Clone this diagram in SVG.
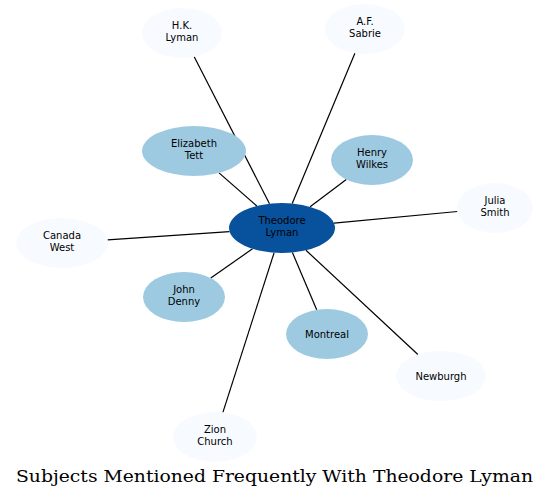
<svg xmlns="http://www.w3.org/2000/svg" width="549" height="498" viewBox="0 0 549 498">
<style>
.n text{font-family:"DejaVu Sans",sans-serif;font-size:10px;text-anchor:middle;fill:#000}
.l{fill:#f7fbff}
.m{fill:#9ecae1}
.d{fill:#08519c}
#edges line{stroke:#000;stroke-width:1.2}
.title{font-family:"DejaVu Serif",serif;font-size:17px;text-anchor:middle;fill:#000}
</style>
<rect width="549" height="498" fill="#fff"/>
<g id="edges">
<line x1="269.5" y1="203.7" x2="194.2" y2="56.8"/>
<line x1="292.2" y1="203.5" x2="354.9" y2="53.2"/>
<line x1="256.8" y1="206" x2="219" y2="172.9"/>
<line x1="310.1" y1="206.8" x2="346.3" y2="179.5"/>
<line x1="334" y1="223.1" x2="457.4" y2="211.5"/>
<line x1="229.5" y1="231.6" x2="107.6" y2="239.9"/>
<line x1="252.5" y1="248.8" x2="210.8" y2="278.1"/>
<line x1="292.4" y1="252.5" x2="316.7" y2="309.8"/>
<line x1="306" y1="250.3" x2="417.9" y2="354.5"/>
<line x1="274.1" y1="252.7" x2="222.9" y2="412.4"/>
</g>
<g id="theodore" class="n"><ellipse class="d" cx="282" cy="228" rx="53" ry="25"/><text x="282" y="224">Theodore</text><text x="282" y="236">Lyman</text></g>
<g id="hk" class="n"><ellipse class="l" cx="182" cy="33" rx="40" ry="25"/><text x="182" y="29">H.K.</text><text x="182" y="41">Lyman</text></g>
<g id="af" class="n"><ellipse class="l" cx="365" cy="29" rx="40" ry="25"/><text x="365" y="25">A.F.</text><text x="365" y="37">Sabrie</text></g>
<g id="elizabeth" class="n"><ellipse class="m" cx="194" cy="151" rx="52" ry="25"/><text x="194" y="147">Elizabeth</text><text x="194" y="159">Tett</text></g>
<g id="henry" class="n"><ellipse class="m" cx="372" cy="160" rx="41" ry="25"/><text x="372" y="156">Henry</text><text x="372" y="168">Wilkes</text></g>
<g id="julia" class="n"><ellipse class="l" cx="495" cy="208" rx="38" ry="25"/><text x="495" y="204">Julia</text><text x="495" y="216">Smith</text></g>
<g id="canada" class="n"><ellipse class="l" cx="62" cy="243" rx="46" ry="25"/><text x="62" y="239">Canada</text><text x="62" y="251">West</text></g>
<g id="john" class="n"><ellipse class="m" cx="184" cy="297" rx="41" ry="25"/><text x="184" y="293">John</text><text x="184" y="305">Denny</text></g>
<g id="montreal" class="n"><ellipse class="m" cx="327" cy="334" rx="41" ry="25"/><text x="327" y="337.5">Montreal</text></g>
<g id="newburgh" class="n"><ellipse class="l" cx="441" cy="376" rx="45" ry="25"/><text x="441" y="379.5">Newburgh</text></g>
<g id="zion" class="n"><ellipse class="l" cx="215" cy="437" rx="42" ry="25"/><text x="215" y="433">Zion</text><text x="215" y="445">Church</text></g>
<text class="title" x="274.5" y="482" textLength="517" lengthAdjust="spacingAndGlyphs">Subjects Mentioned Frequently With Theodore Lyman</text>
</svg>
